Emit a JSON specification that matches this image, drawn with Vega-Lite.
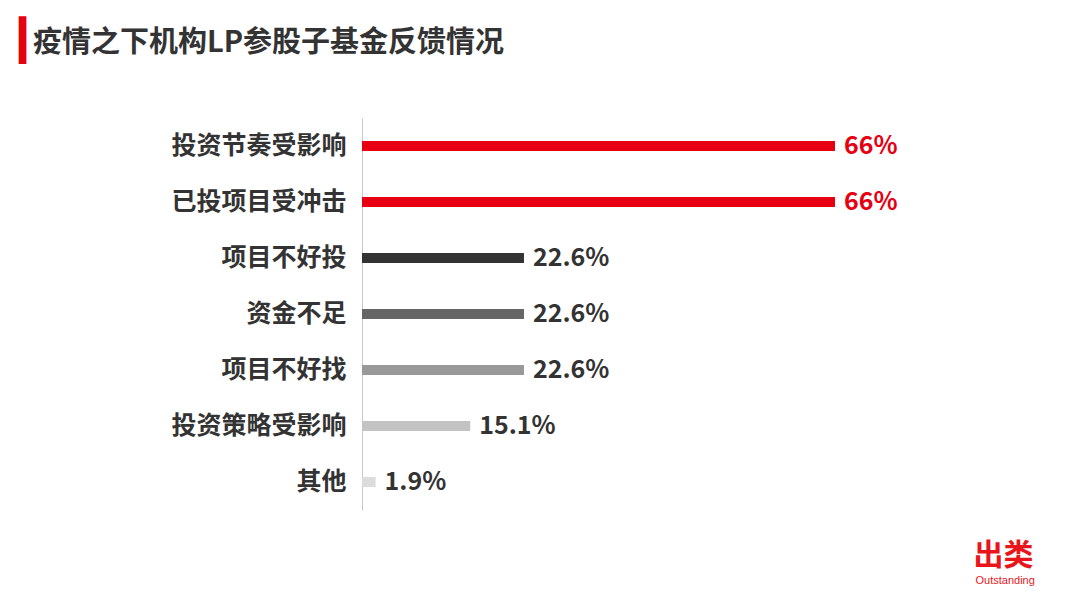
{
  "$schema": "https://vega.github.io/schema/vega-lite/v6.json",
  "autosize": "none",
  "width": 473,
  "height": 392,
  "padding": {"left": 362, "top": 118, "right": 245, "bottom": 98},
  "background": "#ffffff",
  "config": {"view": {"stroke": null}, "font": "Noto Sans CJK SC"},
  "title": {
    "text": "疫情之下机构LP参股子基金反馈情况",
    "anchor": "start",
    "frame": "group",
    "font": "Noto Sans CJK SC",
    "fontSize": 29,
    "fontWeight": "bold",
    "color": "#333333",
    "baseline": "top",
    "dx": -329,
    "dy": 40
  },
  "data": {
    "values": [
      {"item": "投资节奏受影响", "v": 66},
      {"item": "已投项目受冲击", "v": 66},
      {"item": "项目不好投", "v": 22.6},
      {"item": "资金不足", "v": 22.6},
      {"item": "项目不好找", "v": 22.6},
      {"item": "投资策略受影响", "v": 15.1},
      {"item": "其他", "v": 1.9}
    ]
  },
  "transform": [{"calculate": "datum.v + '%'", "as": "label"}],
  "encoding": {
    "y": {
      "field": "item",
      "type": "nominal",
      "sort": null,
      "scale": {"paddingInner": 0, "paddingOuter": 0},
      "axis": {
        "title": "|",
        "titleFont": "Inter",
        "titleFontSize": 40,
        "titleFontWeight": 900,
        "titleColor": "#e60012",
        "titleAngle": 0,
        "titleAlign": "left",
        "titleBaseline": "top",
        "titleX": -348,
        "titleY": -96,
        "labelFont": "Noto Sans CJK SC",
        "labelFontSize": 25,
        "labelFontWeight": "bold",
        "labelColor": "#333333",
        "labelPadding": 16,
        "ticks": false,
        "domain": true,
        "domainColor": "#c8c8c8",
        "domainWidth": 1,
        "grid": false
      }
    },
    "x": {
      "field": "v",
      "type": "quantitative",
      "scale": {"domain": [0, 66], "nice": false, "zero": true},
      "axis": null
    }
  },
  "layer": [
    {
      "mark": {"type": "bar", "size": 10},
      "encoding": {
        "color": {
          "field": "item",
          "type": "nominal",
          "scale": {
            "domain": ["投资节奏受影响", "已投项目受冲击", "项目不好投", "资金不足", "项目不好找", "投资策略受影响", "其他"],
            "range": ["#e60012", "#e60012", "#333333", "#666666", "#999999", "#c3c3c3", "#dcdcdc"]
          },
          "legend": null
        },
        "x": {
          "field": "v",
          "type": "quantitative",
          "scale": {"domain": [0, 66], "nice": false, "zero": true},
          "axis": {
            "orient": "bottom",
            "title": "出类",
            "titleFont": "Noto Sans CJK SC",
            "titleFontSize": 30,
            "titleFontWeight": "bold",
            "titleColor": "#e8161b",
            "titleAlign": "left",
            "titleBaseline": "top",
            "titleAngle": 0,
            "titleX": 611,
            "titleY": 30,
            "labels": false,
            "ticks": false,
            "domain": false,
            "grid": false
          }
        }
      }
    },
    {
      "mark": {"type": "text", "align": "left", "baseline": "middle", "dx": 9, "font": "Noto Sans CJK SC", "fontSize": 25, "fontWeight": "bold"},
      "encoding": {
        "text": {"field": "label", "type": "nominal"},
        "color": {"condition": {"test": "datum.v >= 60", "value": "#e60012"}, "value": "#333333"},
        "x": {
          "field": "v",
          "type": "quantitative",
          "scale": {"domain": [0, 66], "nice": false, "zero": true},
          "axis": {
            "orient": "top",
            "title": "Outstanding",
            "titleFont": "Liberation Sans",
            "titleFontSize": 11,
            "titleFontWeight": "normal",
            "titleColor": "#e8161b",
            "titleAlign": "left",
            "titleBaseline": "top",
            "titleAngle": 0,
            "titleX": 613,
            "titleY": 456,
            "labels": false,
            "ticks": false,
            "domain": false,
            "grid": false
          }
        }
      }
    }
  ],
  "resolve": {"axis": {"x": "independent"}}
}
